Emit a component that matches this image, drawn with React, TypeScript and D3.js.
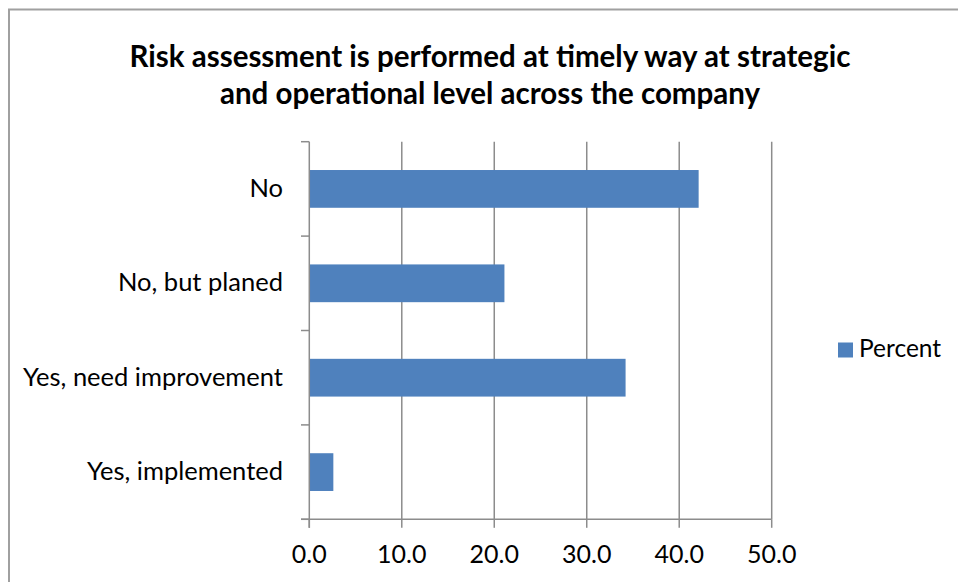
import React from "react";
import * as d3 from "d3";

const categories = ["No", "No, but planed", "Yes, need improvement", "Yes, implemented"];
const percentValues = [42.1, 21.1, 34.2, 2.6];
const xTicks = [0, 10, 20, 30, 40, 50];
const titleLines = [
  "Risk assessment is performed at timely way at strategic",
  "and operational level across the company",
];
const seriesName = "Percent";

const W = 958;
const H = 582;
const FONT = "Lato, 'Open Sans', sans-serif";
const BAR = "#4F81BD";
const GRID = "#8c8c8c";

export default function App() {
  const x = d3.scaleLinear().domain([0, 50]).range([309.3, 771.7]);
  const y = d3
    .scaleBand<string>()
    .domain(categories)
    .range([141.7, 519.3])
    .paddingInner(0.6)
    .paddingOuter(0.3);
  const step = y.step();
  const top = 141.7;
  const bottom = 519.3;
  const boundaries = d3.range(categories.length + 1).map((i) => top + i * step);

  return (
    <svg
      width={W}
      height={H}
      style={{ position: "absolute", left: 0, top: 0, background: "#fff" }}
    >
      <rect x={0} y={0} width={W} height={H} fill="#fff" />
      <rect x={9} y={9.5} width={W + 20} height={H + 20} fill="none" stroke="#a0a0a0" strokeWidth={2} />
      {titleLines.map((t, i) => (
        <text
          key={i}
          x={490}
          y={67 + i * 37}
          textAnchor="middle"
          fontFamily={FONT}
          fontWeight="bold"
          fontSize={29.5}
          fill="#000"
        >
          {t}
        </text>
      ))}
      {/* gridlines */}
      {xTicks.slice(1).map((t) => (
        <line key={t} x1={x(t)} x2={x(t)} y1={top} y2={bottom} stroke={GRID} strokeWidth={1.5} />
      ))}
      {/* bars */}
      {categories.map((c, i) => (
        <rect
          key={c}
          x={x(0)}
          y={y(c)!}
          width={x(percentValues[i]) - x(0)}
          height={y.bandwidth()}
          fill={BAR}
        />
      ))}
      {/* category axis */}
      <line x1={x(0)} x2={x(0)} y1={top} y2={bottom + 8.5} stroke={GRID} strokeWidth={1.5} />
      {boundaries.map((b, i) => (
        <line key={i} x1={301} x2={x(0)} y1={b} y2={b} stroke={GRID} strokeWidth={1.5} />
      ))}
      {/* value axis */}
      <line x1={301} x2={x(50)} y1={bottom} y2={bottom} stroke={GRID} strokeWidth={1.5} />
      {xTicks.map((t) => (
        <g key={t}>
          <line x1={x(t)} x2={x(t)} y1={bottom} y2={bottom + 8.5} stroke={GRID} strokeWidth={1.5} />
          <text x={x(t)} y={563} textAnchor="middle" fontFamily={FONT} fontSize={25} fill="#000">
            {d3.format(".1f")(t)}
          </text>
        </g>
      ))}
      {categories.map((c) => (
        <text
          key={c}
          x={283}
          y={y(c)! + y.bandwidth() / 2 + 8}
          textAnchor="end"
          fontFamily={FONT}
          fontSize={25.5}
          fill="#000"
        >
          {c}
        </text>
      ))}
      {/* legend */}
      <rect x={838} y={342.5} width={15} height={15} fill={BAR} />
      <text x={859} y={357} fontFamily={FONT} fontSize={24.5} fill="#000">
        {seriesName}
      </text>
    </svg>
  );
}
